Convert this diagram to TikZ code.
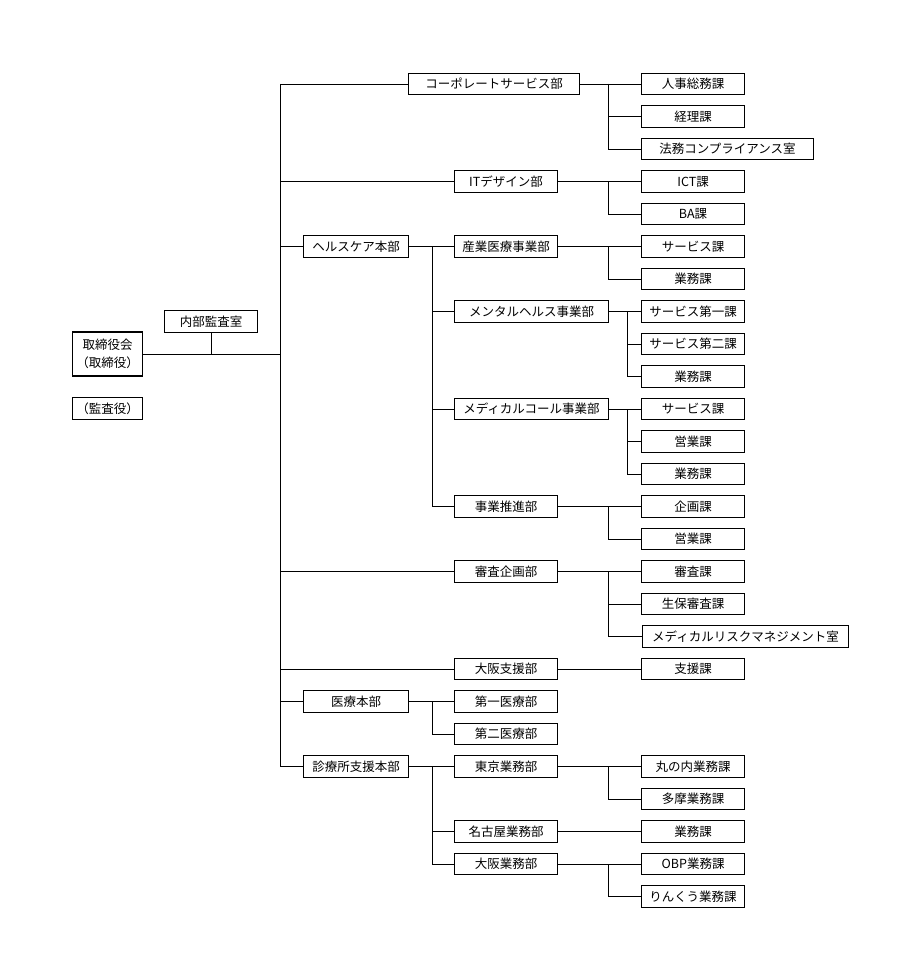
\documentclass[tikz,border=0pt]{standalone}
\usepackage{fontspec}
\newfontfamily\jp{Noto Sans CJK JP}
\begin{document}
\begin{tikzpicture}[x=1pt,y=-1pt,
  box/.style={draw=black, line width=1.1pt, fill=white, minimum height=21.5pt, inner sep=0pt, anchor=west, font=\jp\fontsize{12.5}{15}\selectfont},
  w3/.style={box, minimum width=103pt},
  w2/.style={box, minimum width=103pt},
  w1/.style={box, minimum width=105pt},
  ln/.style={draw=black, line width=0.9pt}]
\useasboundingbox (0,0) rectangle (901,955);
\fill[white] (0,0) rectangle (901,955);
% branch coordinates
\coordinate (T) at (280,84);
\coordinate (TB) at (280,766.5);
\coordinate (bA) at (432,0);
\coordinate (bB) at (608,0);
\coordinate (bC) at (627,0);
% left
\node[box, minimum width=70pt, minimum height=44pt, align=center, font=\jp\fontsize{12.5}{18.5}\selectfont] (bod) at (72,354) {取締役会\\（取締役）};
\node[box, minimum width=70pt] (aud) at (72,408.5) {（監査役）};
\node[box, minimum width=93pt] (ia) at (164,321.5) {内部監査室};
% level 1 / 2 on trunk
\node[box, minimum width=171pt] (corp) at (408,84) {コーポレートサービス部};
\node[w2] (itd) at (454,181.5) {ITデザイン部};
\node[w1] (hc) at (303,246.5) {ヘルスケア本部};
\node[w2] (shin) at (454,571.5) {審査企画部};
\node[w2] (osk) at (454,669) {大阪支援部};
\node[w1] (iryo) at (303,701.5) {医療本部};
\node[w1] (clin) at (303,766.5) {診療所支援本部};
% healthcare
\node[w2] (sang) at (454,246.5) {産業医療事業部};
\node[box, minimum width=154pt] (ment) at (454,311.5) {メンタルヘルス事業部};
\node[box, minimum width=154pt] (medc) at (454,409) {メディカルコール事業部};
\node[w2] (jigy) at (454,506.5) {事業推進部};
% iryo
\node[w2] (dai1) at (454,701.5) {第一医療部};
\node[w2] (dai2) at (454,734) {第二医療部};
% clinic
\node[w2] (tky) at (454,766.5) {東京業務部};
\node[w2] (ngy) at (454,831.5) {名古屋業務部};
\node[w2] (osg) at (454,864) {大阪業務部};
% level 3
\node[w3] (k1) at (641,84) {人事総務課};
\node[w3] (k2) at (641,116.5) {経理課};
\node[box, minimum width=172pt] (k3) at (641,149) {法務コンプライアンス室};
\node[w3] (k4) at (641,181.5) {ICT課};
\node[w3] (k5) at (641,214) {BA課};
\node[w3] (k6) at (641,246.5) {サービス課};
\node[w3] (k7) at (641,279) {業務課};
\node[w3] (k8) at (641,311.5) {サービス第一課};
\node[w3] (k9) at (641,344) {サービス第二課};
\node[w3] (k10) at (641,376.5) {業務課};
\node[w3] (k11) at (641,409) {サービス課};
\node[w3] (k12) at (641,441.5) {営業課};
\node[w3] (k13) at (641,474) {業務課};
\node[w3] (k14) at (641,506.5) {企画課};
\node[w3] (k15) at (641,539) {営業課};
\node[w3] (k16) at (641,571.5) {審査課};
\node[w3] (k17) at (641,604) {生保審査課};
\node[box, minimum width=206pt] (k18) at (642,636.5) {メディカルリスクマネジメント室};
\node[w3] (k19) at (641,669) {支援課};
\node[w3] (k22) at (641,766.5) {丸の内業務課};
\node[w3] (k23) at (641,799) {多摩業務課};
\node[w3] (k24) at (641,831.5) {業務課};
\node[w3] (k25) at (641,864) {OBP業務課};
\node[w3] (k26) at (641,896.5) {りんくう業務課};
% connectors: left
\draw[ln] (T) -- (TB);
\draw[ln] (bod.east) -- (bod.east -| T);
\draw[ln] (ia.south) -- (ia.south |- bod.east);
% trunk branches
\foreach \n in {corp,itd,hc,shin,osk,iryo,clin} \draw[ln] (\n.west -| T) -- (\n.west);
% corporate
\draw[ln] (corp.east) -- (k1.west);
\draw[ln] (corp.east -| bB) |- (k2.west);
\draw[ln] (corp.east -| bB) |- (k3.west);
% IT
\draw[ln] (itd.east) -- (k4.west);
\draw[ln] (itd.east -| bB) |- (k5.west);
% healthcare
\draw[ln] (hc.east) -- (sang.west);
\draw[ln] (hc.east -| bA) |- (ment.west);
\draw[ln] (hc.east -| bA) |- (medc.west);
\draw[ln] (hc.east -| bA) |- (jigy.west);
\draw[ln] (sang.east) -- (k6.west);
\draw[ln] (sang.east -| bB) |- (k7.west);
\draw[ln] (ment.east) -- (k8.west);
\draw[ln] (ment.east -| bC) |- (k9.west);
\draw[ln] (ment.east -| bC) |- (k10.west);
\draw[ln] (medc.east) -- (k11.west);
\draw[ln] (medc.east -| bC) |- (k12.west);
\draw[ln] (medc.east -| bC) |- (k13.west);
\draw[ln] (jigy.east) -- (k14.west);
\draw[ln] (jigy.east -| bB) |- (k15.west);
% shinsa
\draw[ln] (shin.east) -- (k16.west);
\draw[ln] (shin.east -| bB) |- (k17.west);
\draw[ln] (shin.east -| bB) |- (k18.west);
% osaka shien
\draw[ln] (osk.east) -- (k19.west);
% iryo
\draw[ln] (iryo.east) -- (dai1.west);
\draw[ln] (iryo.east -| bA) |- (dai2.west);
% clinic
\draw[ln] (clin.east) -- (tky.west);
\draw[ln] (clin.east -| bA) |- (ngy.west);
\draw[ln] (clin.east -| bA) |- (osg.west);
\draw[ln] (tky.east) -- (k22.west);
\draw[ln] (tky.east -| bB) |- (k23.west);
\draw[ln] (ngy.east) -- (k24.west);
\draw[ln] (osg.east) -- (k25.west);
\draw[ln] (osg.east -| bB) |- (k26.west);
\end{tikzpicture}
\end{document}
